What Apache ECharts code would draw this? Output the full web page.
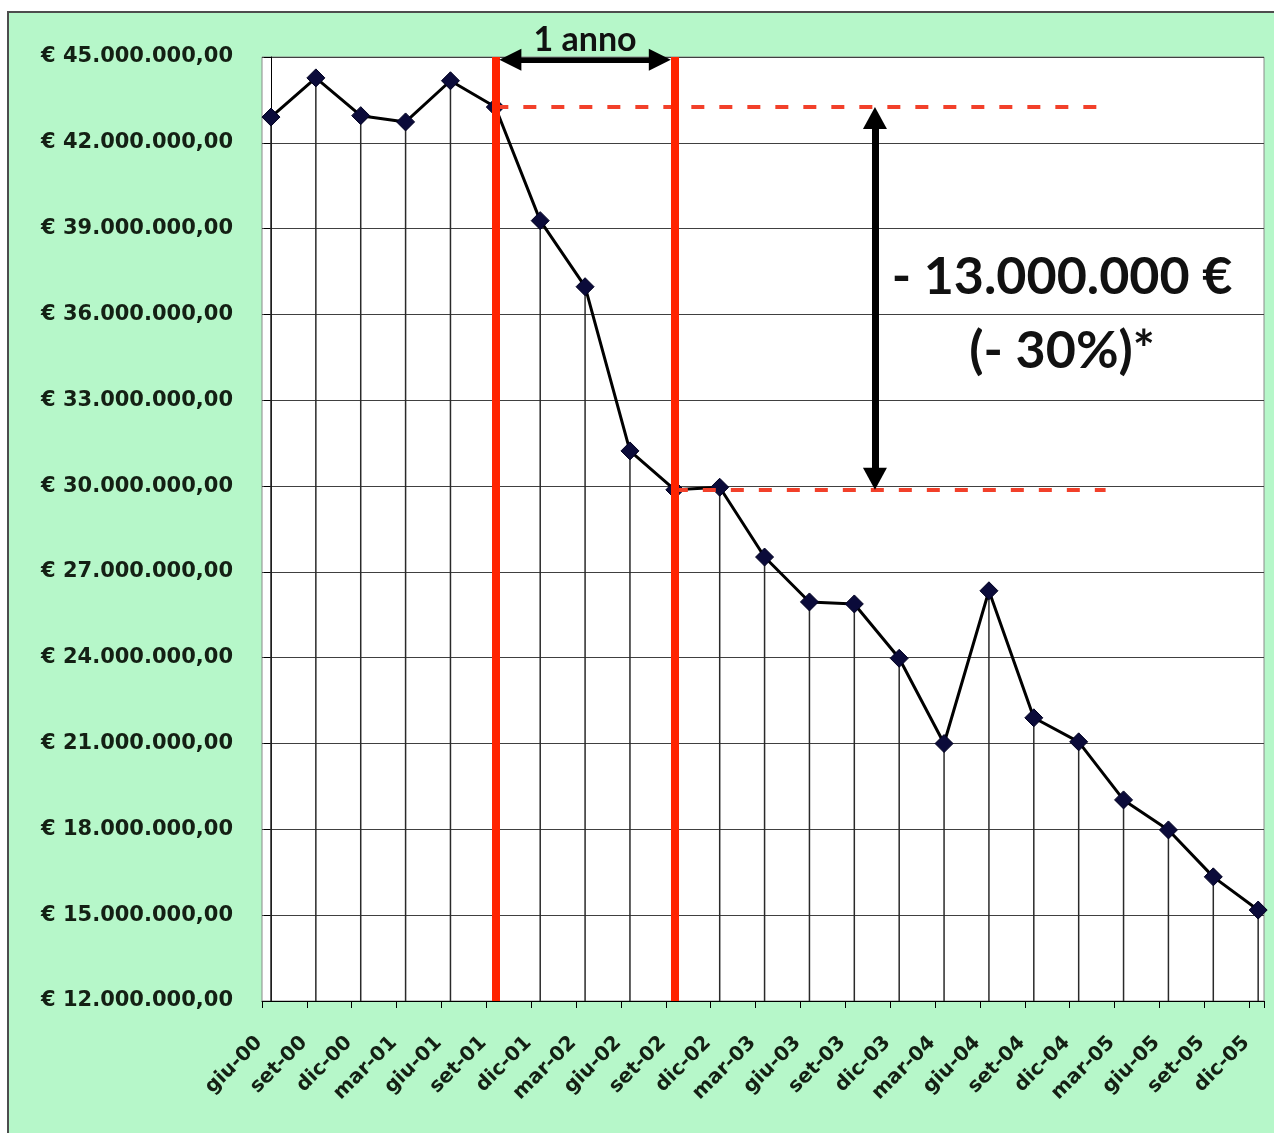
<!DOCTYPE html>
<html>
<head>
<meta charset="utf-8">
<script src="https://cdn.jsdelivr.net/npm/echarts@6/dist/echarts.min.js"></script>
<style>
html, body { margin: 0; padding: 0; background: #ffffff; overflow: hidden; width: 1274px; height: 1133px; }
#frame { position: absolute; left: 7px; top: 11px; width: 1300px; height: 1200px; background: #b6f7c9; border: 2px solid #4d4d4d; }
#chart { position: absolute; left: 0; top: 0; width: 1274px; height: 1133px; }
</style>
</head>
<body>
<div id="frame"></div>
<div id="chart"></div>
<script>
// ---- data ----
const categories = ['giu-00','set-00','dic-00','mar-01','giu-01','set-01','dic-01','mar-02','giu-02','set-02','dic-02','mar-03','giu-03','set-03','dic-03','mar-04','giu-04','set-04','dic-04','mar-05','giu-05','set-05','dic-05'];
const values = [42900000, 44270000, 42950000, 42730000, 44170000, 43250000, 39280000, 36970000, 31230000, 29870000, 29960000, 27520000, 25950000, 25880000, 23980000, 21000000, 26340000, 21900000, 21060000, 19030000, 17980000, 16340000, 15180000];
const yTicksMin = 12000000;
const yTicksMax = 45000000;
const yTicksStep = 3000000;

// annotation anchors (category indexes / values)
const yearStartIdx = 5;   // set-01
const yearEndIdx = 9;     // set-02
const dashedEndX = 18.6;
const dropArrowX = 13.46;
const dropText = '- 13.000.000 €\n(- 30%)*';
const dropTextPos = [17.63, 36000000];
const yearText = '1 anno';
const yearArrowY = 44900000;

// x axis offset (labels/ticks sit slightly left of points, as in the original)
const xShift = -0.2;
const xMax = 22.13;

function fmtEuro(v) {
  const s = Math.round(v).toString().replace(/\B(?=(\d{3})+(?!\d))/g, '.');
  return '€ ' + s + ',00';
}

const chart = echarts.init(document.getElementById('chart'), null, { renderer: 'canvas' });

const headLenY = 0.77e6;  // arrowhead length in value units
const headLenX = 0.49;    // arrowhead length in category units
const tipGapX = 0.09;     // horizontal arrow tips stop at the red lines' edges

const labelFont = 'DejaVu Sans, Liberation Sans, Arial, sans-serif';
const noteFont = 'Lato, Open Sans, sans-serif';

const option = {
  backgroundColor: 'transparent',
  animation: false,
  grid: {
    left: 262, right: 10, top: 57, bottom: 132,
    containLabel: false,
    outerBoundsMode: 'none',
    show: true,
    backgroundColor: '#ffffff',
    borderColor: '#8a8a8a',
    borderWidth: 1
  },
  xAxis: {
    type: 'value',
    min: xShift,
    max: xMax,
    interval: 1,
    splitLine: { show: false },
    axisLine: { show: true, onZero: false, lineStyle: { color: '#000', width: 1 } },
    axisTick: { show: true, inside: false, length: 7, lineStyle: { color: '#000', width: 1 } },
    axisLabel: {
      show: true,
      rotate: 45,
      margin: 36,
      padding: [0, 4, 0, 0],
      fontSize: 20,
      fontWeight: 'bold',
      fontFamily: labelFont,
      color: '#142014',
      showMinLabel: true,
      showMaxLabel: true,
      hideOverlap: false,
      formatter: function (v) {
        const k = v - xShift;
        const idx = Math.round(k);
        if (Math.abs(k - idx) > 0.01 || idx < 0 || idx >= categories.length) return '';
        return categories[idx];
      }
    }
  },
  yAxis: {
    type: 'value',
    min: yTicksMin,
    max: yTicksMax,
    interval: yTicksStep,
    axisLine: { show: true, lineStyle: { color: '#000', width: 1 } },
    axisTick: { show: true, inside: false, length: 7, lineStyle: { color: '#000', width: 1 } },
    splitLine: { show: true, lineStyle: { color: '#404040', width: 1 } },
    axisLabel: {
      margin: 29,
      fontSize: 21,
      fontWeight: 'bold',
      fontFamily: labelFont,
      color: '#142014',
      padding: [0, 0, 4, 0],
      formatter: fmtEuro
    }
  },
  series: [
    {
      name: 'drop',
      type: 'bar',
      barWidth: 1.5,
      silent: true,
      clip: true,
      itemStyle: { color: '#2a2a2a' },
      data: values.map((v, i) => [i, v]),
      z: 1
    },
    {
      name: 'valore',
      type: 'line',
      data: values.map((v, i) => [i, v]),
      symbol: 'diamond',
      symbolSize: 18,
      showAllSymbol: true,
      clip: false,
      lineStyle: { color: '#000', width: 3 },
      itemStyle: { color: '#0b0b3a', borderColor: '#000020', borderWidth: 1 },
      z: 3
    },
    {
      name: 'red-lines',
      type: 'line',
      data: [],
      clip: false,
      z: 5,
      markLine: {
        silent: true,
        animation: false,
        symbol: ['none', 'none'],
        label: { show: false },
        data: [
          [{ coord: [yearStartIdx, values[yearStartIdx]], lineStyle: { color: '#f2402a', width: 4, type: [13, 15] } },
           { coord: [dashedEndX, values[yearStartIdx]] }],
          [{ coord: [yearEndIdx, values[yearEndIdx]], lineStyle: { color: '#f2402a', width: 4, type: [13, 15] } },
           { coord: [dashedEndX, values[yearEndIdx]] }],
          { xAxis: yearStartIdx, lineStyle: { color: '#ff2400', width: 8, type: 'solid' } },
          { xAxis: yearEndIdx, lineStyle: { color: '#ff2400', width: 8, type: 'solid' } }
        ]
      }
    },
    {
      name: 'arrow-shafts',
      type: 'line',
      data: [],
      clip: false,
      z: 6,
      markLine: {
        silent: true,
        animation: false,
        symbol: ['none', 'none'],
        lineStyle: { color: '#000', type: 'solid' },
        data: [
          [{ coord: [dropArrowX, values[yearStartIdx] - headLenY + 0.05e6], lineStyle: { width: 7, color: '#000', type: 'solid' }, label: { show: false } },
           { coord: [dropArrowX, values[yearEndIdx] + headLenY - 0.05e6] }],
          [{ coord: [yearStartIdx + tipGapX + headLenX - 0.03, yearArrowY], lineStyle: { width: 5, color: '#000', type: 'solid' },
             label: { show: true, formatter: yearText, position: 'insideMiddleTop', distance: 3,
                      fontSize: 34, fontWeight: 'bold', fontFamily: noteFont, color: '#111' } },
           { coord: [yearEndIdx - tipGapX - headLenX + 0.03, yearArrowY] }]
        ]
      }
    },
    {
      name: 'arrow-heads',
      type: 'line',
      data: [],
      clip: false,
      z: 7,
      markPoint: {
        silent: true,
        animation: false,
        symbol: 'triangle',
        symbolSize: [24, 22],
        itemStyle: { color: '#000' },
        label: { show: false },
        data: [
          { coord: [dropArrowX, values[yearStartIdx] - headLenY / 2], symbolRotate: 0 },
          { coord: [dropArrowX, values[yearEndIdx] + headLenY / 2], symbolRotate: 180 },
          { coord: [yearStartIdx + tipGapX + headLenX / 2, yearArrowY], symbolRotate: 90, symbolSize: [22, 22] },
          { coord: [yearEndIdx - tipGapX - headLenX / 2, yearArrowY], symbolRotate: -90, symbolSize: [22, 22] }
        ]
      }
    },
    {
      name: 'note',
      type: 'line',
      data: [],
      clip: false,
      z: 8,
      markPoint: {
        silent: true,
        animation: false,
        symbol: 'circle',
        symbolSize: 1,
        itemStyle: { color: 'rgba(0,0,0,0)' },
        label: {
          show: true,
          position: 'inside',
          formatter: dropText,
          fontSize: 52,
          lineHeight: 74,
          fontWeight: 'bold',
          fontFamily: noteFont,
          color: '#111',
          align: 'center',
          verticalAlign: 'middle'
        },
        data: [{ coord: dropTextPos }]
      }
    }
  ]
};
chart.setOption(option);
</script>
</body>
</html>
